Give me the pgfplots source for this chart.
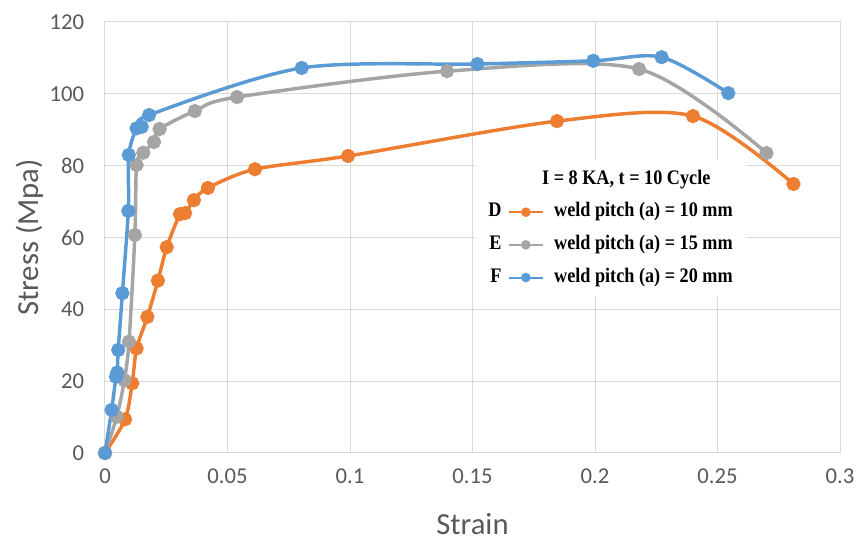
\documentclass[border=0pt]{standalone}
\usepackage{fontspec}
\usepackage{pgfplots}
\pgfplotsset{compat=1.18}
\setmainfont{Carlito}
\newfontfamily\legfont{Liberation Serif}[FakeStretch=0.88]
\definecolor{cD}{HTML}{ED7D31}
\definecolor{cE}{HTML}{A5A5A5}
\definecolor{cF}{HTML}{5B9BD5}
\definecolor{gridC}{HTML}{D9D9D9}
\definecolor{txtC}{HTML}{595959}
\begin{document}
\begin{tikzpicture}
\begin{axis}[
  scale only axis, width=551.25pt, height=323.25pt,
  xmin=0, xmax=0.3, ymin=0, ymax=120,
  xtick={0,0.05,0.1,0.15,0.2,0.25,0.3},
  xticklabels={0,0.05,0.1,0.15,0.2,0.25,0.3},
  ytick={0,20,40,60,80,100,120},
  yticklabels={0,20,40,60,80,100,120},
  grid=major, major grid style={gridC, line width=0.75pt},
  axis line style={gridC, line width=0.75pt},
  major tick length=0pt,
  tick label style={font=\fontsize{17}{20}\selectfont, text=txtC, inner sep=0pt},
  xticklabel style={anchor=north, yshift=-12pt},
  yticklabel style={anchor=east, xshift=-15.5pt},
  xlabel={Strain}, ylabel={Stress (Mpa)},
  every axis x label/.style={at={(axis description cs:0.5,-0.19)}, anchor=base, font=\fontsize{23}{26}\selectfont, text=txtC},
  every axis y label/.style={at={(axis description cs:-0.103,0.5)}, anchor=center, rotate=90, font=\fontsize{23}{26}\selectfont, text=txtC},
  clip=false,
  legend cell align=left,
  legend style={at={(0.503,0.68)}, anchor=north west, draw=none, fill=white,
    font=\legfont\bfseries\fontsize{15.5}{18}\selectfont,
    inner xsep=10pt, inner ysep=7pt, row sep=9.5pt,
    nodes={inner sep=0pt, text height=11pt, text depth=4pt},
    /tikz/every odd column/.style={column sep=8pt}},
  every axis plot/.append style={line width=2.6pt, smooth, mark=*, mark size=4pt},
]
\addlegendimage{empty legend}
\addlegendentry{\hspace*{-9pt}I = 8 KA, t = 10 Cycle}

\addplot[cD, mark options={fill=cD, draw=cD},
  legend image code/.code={\node[anchor=east, inner sep=0pt, text height=11pt, text depth=4pt, black] at (-4.5pt,0) {D};
    \draw[cD, line width=1.5pt] (0pt,0pt) -- (25pt,0pt); \fill[cD] (12.5pt,0pt) circle (2.2pt);}]
coordinates {
(0,0) (0.0082,9.4) (0.0111,19.4) (0.0129,29.1) (0.0173,37.9) (0.0216,48) (0.0252,57.3)
(0.0306,66.5) (0.0327,66.8) (0.0363,70.4) (0.042,73.8) (0.0612,79) (0.0992,82.7)
(0.1845,92.4) (0.2400,93.8) (0.2810,74.9)};
\addlegendentry{weld pitch (a) = 10 mm}

\addplot[cE, mark options={fill=cE, draw=cE},
  legend image code/.code={\node[anchor=east, inner sep=0pt, text height=11pt, text depth=4pt, black] at (-4.5pt,0) {E};
    \draw[cE, line width=1.5pt] (0pt,0pt) -- (25pt,0pt); \fill[cE] (12.5pt,0pt) circle (2.2pt);}]
coordinates {
(0,0) (0.0048,10.1) (0.0079,20.3) (0.0098,31) (0.0122,60.7) (0.0129,80.2) (0.0156,83.6)
(0.0200,86.6) (0.0223,90.2) (0.0367,95.2) (0.0539,99.1) (0.1396,106.3) (0.2180,106.9)
(0.2700,83.5)};
\addlegendentry{weld pitch (a) = 15 mm}

\addplot[cF, mark options={fill=cF, draw=cF},
  legend image code/.code={\node[anchor=east, inner sep=0pt, text height=11pt, text depth=4pt, black] at (-4.5pt,0) {F};
    \draw[cF, line width=1.5pt] (0pt,0pt) -- (25pt,0pt); \fill[cF] (12.5pt,0pt) circle (2.2pt);}]
coordinates {
(0,0) (0.0027,12) (0.0045,21.2) (0.005,22.4) (0.0054,28.7) (0.0071,44.5) (0.0095,67.4)
(0.0097,83) (0.0129,90.4) (0.015,90.8) (0.018,94.1) (0.0803,107.2) (0.1520,108.3)
(0.1993,109.2) (0.2272,110.2) (0.2544,100.2)};
\addlegendentry{weld pitch (a) = 20 mm}
\end{axis}
\pgfresetboundingbox
\path (-78.75pt,-66.75pt) rectangle (564pt,339.75pt);
\end{tikzpicture}
\end{document}
